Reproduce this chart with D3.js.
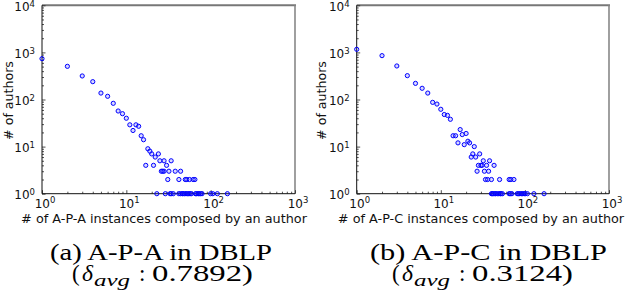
<!DOCTYPE html>
<html>
<head>
<meta charset="utf-8">
<script src="https://cdn.jsdelivr.net/npm/d3@7"></script>
<style>
  html, body { margin: 0; padding: 0; background: #fff; }
  svg { display: block; }
  .cap { font-family: "Liberation Serif", "Times New Roman", serif; }
  .sans { font-family: "DejaVu Sans", sans-serif; }
</style>
</head>
<body>
<svg id="chart" width="626" height="302"></svg>
<script>
// A-P-A / A-P-C instance distributions in DBLP (log-log)

var apaX = [1, 2, 3, 4, 5, 6, 7, 8, 9, 10, 11, 12, 13, 14, 15, 16, 17, 18, 19, 20, 21, 22, 24, 25, 26, 27, 28, 28, 30, 31, 32, 34, 38, 42, 44, 50, 52, 56, 62, 65];
var apaY = [736, 506, 316, 239, 137, 117, 83, 57, 50, 40, 29, 22, 29, 27, 17, 14, 4, 9, 8, 7, 4, 6, 7, 5, 3, 3, 3, 5, 4, 2, 3, 5, 3, 2, 3, 2, 2, 2, 2, 2];
var apaOnes = [23, 29, 33, 34, 36, 42, 44, 46, 47, 49, 51, 53, 55, 57, 59, 66, 68, 71, 73, 76, 79, 100, 106, 120, 158];

var apcX = [1, 2, 3, 4, 5, 6, 7, 8, 9, 10, 11, 12, 13, 14, 15, 16, 17, 18, 19, 20, 21, 22, 23, 24, 25, 26, 27, 28, 29, 30, 31, 32, 33, 34, 35, 36, 37, 38, 40, 43, 50, 65, 68, 74];
var apcY = [1162, 853, 515, 321, 220, 173, 137, 87, 80, 62, 48, 46, 38, 17, 17, 12, 23, 18, 11, 19, 13, 12, 6, 7, 10, 6, 3, 4, 7, 4, 4, 5, 3, 2, 4, 2, 3, 5, 2, 4, 2, 2, 2, 2];
var apcOnes = [40, 41, 42, 44, 45, 47, 49, 51, 52, 54, 65, 67, 70, 81, 84, 87, 91, 94, 98, 101, 107, 128, 169];

var xTicks = [0, 1, 2, 3];       // exponents of 10
var yTicks = [0, 1, 2, 3, 4];
var xLabels = ["# of A-P-A instances composed by an author", "# of A-P-C instances composed by an author"];
var yLabel = "# of authors";
var captionTitles = ["(a) A-P-A in DBLP", "(b) A-P-C in DBLP"];
var captionValues = ["0.7892)", "0.3124)"];

(function(d3) {

    var svg = d3.select("#chart");

    var panels = [
        { left: 42, right: 295, top: 5.3, bottom: 193.7, xs: apaX, ys: apaY, ones: apaOnes,
          xLabel: xLabels[0], xLabelMid: 164, yLabelX: 12.5,
          title: captionTitles[0], titleX: 50, titleW: 222,
          value: captionValues[0], capX: 72 },
        { left: 356.7, right: 609, top: 5.3, bottom: 193.7, xs: apcX, ys: apcY, ones: apcOnes,
          xLabel: xLabels[1], xLabelMid: 481, yLabelX: 326,
          title: captionTitles[1], titleX: 370, titleW: 237,
          value: captionValues[1], capX: 392 }
    ];

    var minorTicks = [];
    for (var e = 0; e < 4; e++) {
        for (var m = 2; m < 10; m++) minorTicks.push(m * Math.pow(10, e));
    }

    panels.forEach(function(p) {
        var x = d3.scaleLog().domain([1, 1000]).range([p.left, p.right]);
        var y = d3.scaleLog().domain([1, 10000]).range([p.bottom, p.top]);
        var g = svg.append("g");

        // frame: top/right gray, left/bottom dark
        g.append("line").attr("x1", p.left).attr("x2", p.right + 1).attr("y1", p.top).attr("y2", p.top)
            .attr("stroke", "#777").attr("stroke-width", 2);
        g.append("line").attr("x1", p.right).attr("x2", p.right).attr("y1", p.top).attr("y2", p.bottom)
            .attr("stroke", "#888").attr("stroke-width", 1.6);

        // inward ticks via d3 axes, labels drawn separately
        var yMajor = yTicks.map(function(t) { return Math.pow(10, t); });
        var xMajor = xTicks.map(function(t) { return Math.pow(10, t); });

        var yAxisMinor = d3.axisLeft(y).tickValues(minorTicks.filter(function(v) { return v < 10000; }))
            .tickSize(-2).tickFormat("");
        var yAxisMajor = d3.axisLeft(y).tickValues(yMajor).tickSize(-3.5).tickFormat("");
        var xAxisMinor = d3.axisBottom(x).tickValues(minorTicks.filter(function(v) { return v < 1000; }))
            .tickSize(-2).tickFormat("");
        var xAxisMajor = d3.axisBottom(x).tickValues(xMajor).tickSize(-3.5).tickFormat("");

        [yAxisMinor, yAxisMajor].forEach(function(ax) {
            g.append("g").attr("transform", "translate(" + p.left + ",0)").call(ax)
                .call(function(s) { s.select(".domain").remove(); })
                .selectAll("line").attr("stroke", "#222").attr("stroke-width", 0.8);
        });
        [xAxisMinor, xAxisMajor].forEach(function(ax) {
            g.append("g").attr("transform", "translate(0," + p.bottom + ")").call(ax)
                .call(function(s) { s.select(".domain").remove(); })
                .selectAll("line").attr("stroke", "#222").attr("stroke-width", 0.8);
        });

        g.append("line").attr("x1", p.left).attr("x2", p.left).attr("y1", p.top).attr("y2", p.bottom)
            .attr("stroke", "#111").attr("stroke-width", 1);
        g.append("line").attr("x1", p.left).attr("x2", p.right).attr("y1", p.bottom).attr("y2", p.bottom)
            .attr("stroke", "#111").attr("stroke-width", 1);

        // tick labels 10^n
        var yl = g.selectAll("text.ytick").data(yTicks).enter().append("text")
            .attr("class", "ytick sans")
            .attr("x", p.left - 7)
            .attr("y", function(d) { return y(Math.pow(10, d)) + 5.5; })
            .attr("text-anchor", "end")
            .attr("font-size", 12).attr("fill", "#111");
        yl.append("tspan").text("10");
        yl.append("tspan").attr("dy", -4).attr("font-size", 8.5).text(function(d) { return d; });

        var xl = g.selectAll("text.xtick").data(xTicks).enter().append("text")
            .attr("class", "xtick sans")
            .attr("x", function(d) { return x(Math.pow(10, d)) + 3; })
            .attr("y", p.bottom + 13.8)
            .attr("text-anchor", "middle")
            .attr("font-size", 12).attr("fill", "#111");
        xl.append("tspan").text("10");
        xl.append("tspan").attr("dy", -4.5).attr("font-size", 8.5).text(function(d) { return d; });

        // axis labels
        g.append("text").attr("class", "sans").attr("x", p.xLabelMid).attr("y", 223)
            .attr("text-anchor", "middle").attr("font-size", 12.8)
            .attr("fill", "#111").text(p.xLabel);
        g.append("text").attr("class", "sans")
            .attr("transform", "translate(" + p.yLabelX + "," + ((p.top + p.bottom) / 2 + 1) + ") rotate(-90)")
            .attr("text-anchor", "middle").attr("font-size", 12.6)
            .attr("fill", "#111").text(yLabel);

        // points
        var pts = p.xs.map(function(v, i) { return [v, p.ys[i]]; })
            .concat(p.ones.map(function(v) { return [v, 1]; }));
        g.selectAll("circle").data(pts).enter().append("circle")
            .attr("cx", function(d) { return x(d[0]); })
            .attr("cy", function(d) { return y(d[1]); })
            .attr("r", 2.1)
            .attr("fill", "rgba(60,60,255,0.2)")
            .attr("stroke", "#0000ff")
            .attr("stroke-width", 1);

        // caption, stretched a little wider like the source figure
        g.append("text").attr("class", "cap").attr("x", p.titleX).attr("y", 259.5)
            .attr("font-size", 23).attr("fill", "#000")
            .attr("textLength", p.titleW).attr("lengthAdjust", "spacingAndGlyphs")
            .text(p.title);
        var cap = g.append("g").attr("class", "cap").attr("font-size", 23).attr("fill", "#000");
        cap.append("text").attr("x", p.capX).attr("y", 281).text("(");
        cap.append("text").attr("x", p.capX + 10).attr("y", 281).attr("font-style", "italic")
            .attr("textLength", 11).attr("lengthAdjust", "spacingAndGlyphs").text("δ");
        cap.append("text").attr("x", p.capX + 22).attr("y", 285.5).attr("font-style", "italic")
            .attr("font-size", 16).attr("textLength", 36).attr("lengthAdjust", "spacingAndGlyphs").text("avg");
        cap.append("text").attr("x", p.capX + 67).attr("y", 281).text(":");
        cap.append("text").attr("x", p.capX + 80).attr("y", 281)
            .attr("textLength", 101).attr("lengthAdjust", "spacingAndGlyphs").text(p.value);
    });

})(d3);
</script>
</body>
</html>
